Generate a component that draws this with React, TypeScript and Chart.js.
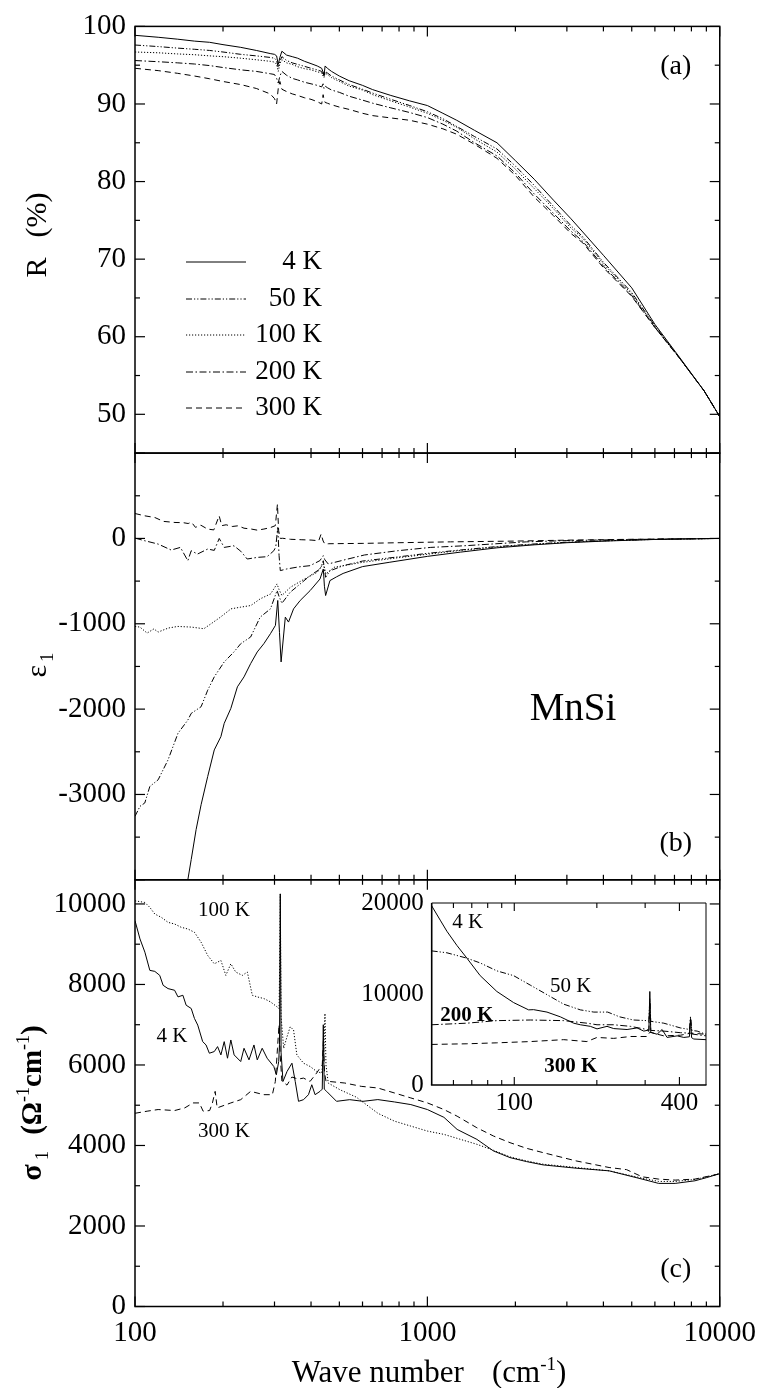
import React, { useEffect, useRef } from "react";
import { Chart, registerables } from "chart.js";

Chart.register(...registerables);

const SERIF = '"Liberation Serif", "Times New Roman", serif';

// ---------- shared wave-number axis ----------
const X_LABELS = [100, 1000, 10000];
const X_MAJOR = [100, 1000, 10000];
const X_MINOR = [200, 300, 400, 500, 600, 700, 800, 900, 2000, 3000, 4000, 5000, 6000, 7000, 8000, 9000];

const TEMPS = ["4 K", "50 K", "100 K", "200 K", "300 K"];
const DASHES: number[][] = [[], [6, 2, 1.2, 2, 1.2, 2], [1.2, 1.8], [7, 2.5, 1.5, 2.5], [6, 4]];

// ---------- panel (a): reflectivity R (%) ----------
const R_LABELS = [50, 60, 70, 80, 90, 100];
const R_MINOR = [55, 65, 75, 85, 95];
const WN_R = [100, 120, 140, 160, 180, 200, 230, 260, 290, 300,
  305, 309, 313, 318, 330, 345, 360, 380, 400, 420,
  435, 440, 443, 447, 455, 470, 500, 540, 600, 650,
  750, 870, 1000, 1130, 1260, 1450, 1730, 2000, 2320, 2700,
  3100, 3400, 4000, 5000, 6000, 7300, 8850, 10000];
const R_4K = [98.85, 98.6, 98.35, 98.1, 97.95, 97.65, 97.3, 96.9, 96.5, 96.4,
  96.2, 95.1, 96.0, 96.8, 96.3, 96.1, 95.9, 95.5, 95.2, 94.9,
  94.6, 94.1, 93.7, 94.9, 94.6, 94.2, 93.6, 93.0, 92.4, 91.85,
  91.1, 90.4, 89.8, 88.8, 87.9, 86.6, 85.0, 82.7, 80.3, 77.6,
  75.2, 73.5, 70.5, 66.3, 61.6, 57.3, 53.0, 49.7];
const R_50K = [97.6, 97.4, 97.2, 97.05, 96.9, 96.7, 96.4, 96.2, 96.0, 95.9,
  95.6, 94.7, 95.5, 96.1, 95.6, 95.3, 95.1, 94.85, 94.6, 94.4,
  94.2, 93.8, 93.6, 94.2, 94.0, 93.6, 93.1, 92.5, 91.9, 91.4,
  90.6, 89.8, 89.0, 88.1, 87.1, 85.8, 84.2, 82.0, 79.5, 76.8,
  74.3, 72.9, 69.6, 65.7, 61.4, 57.2, 53.0, 49.7];
const R_100K = [96.7, 96.6, 96.45, 96.35, 96.2, 96.1, 95.9, 95.7, 95.5, 95.4,
  95.1, 94.2, 95.2, 95.7, 95.3, 95.1, 94.8, 94.55, 94.4, 94.15,
  94.0, 93.6, 93.4, 94.0, 93.8, 93.4, 92.9, 92.3, 91.8, 91.2,
  90.4, 89.6, 88.8, 87.9, 87.0, 85.5, 83.8, 81.6, 79.1, 76.5,
  74.0, 72.7, 69.4, 65.5, 61.3, 57.2, 53.0, 49.7];
const R_200K = [95.6, 95.45, 95.3, 95.15, 94.95, 94.7, 94.4, 94.2, 93.9, 93.8,
  93.3, 92.7, 93.6, 94.2, 93.7, 93.3, 93.1, 92.8, 92.6, 92.4,
  92.2, 92.6, 92.0, 92.3, 92.1, 91.8, 91.5, 91.0, 90.5, 90.1,
  89.5, 88.9, 88.25, 87.4, 86.5, 85.0, 83.3, 81.1, 78.4, 75.9,
  73.6, 72.3, 69.1, 65.3, 61.2, 57.2, 53.0, 49.7];
const R_300K = [94.6, 94.3, 93.95, 93.6, 93.25, 92.9, 92.5, 92.0, 91.3, 90.7,
  90.0, 92.0, 92.9, 91.9, 91.6, 91.3, 91.1, 90.8, 90.6, 90.3,
  90.0, 91.2, 90.6, 90.2, 90.1, 89.9, 89.6, 89.3, 88.8, 88.5,
  88.2, 87.9, 87.4, 86.8, 86.1, 84.8, 83.0, 80.8, 78.0, 75.6,
  73.3, 72.1, 68.9, 65.2, 61.2, 57.2, 53.0, 49.7];

// ---------- panel (b): epsilon_1 ----------
const E_LABELS = [0, -1000, -2000, -3000];
const E_MAJOR = [1000, 0, -1000, -2000, -3000, -4000];
const E_MINOR = [500, -500, -1500, -2500, -3500];
const E_4K_X = [146, 151.6, 155.7, 161.8, 168.3, 177.3, 186.7, 196.7, 201.9, 212.7,
  224, 236, 248.6, 261.9, 275.9, 290.6, 302.2, 307.8, 312, 316,
  326.7, 335, 348.6, 367.3, 397.2, 429.3, 440.6, 444.5, 448.7, 464.2,
  489, 515, 600, 740, 1000, 1300, 1730, 2320, 3000, 4100,
  6000, 10000];
const E_4K = [-4400, -4000, -3762, -3412, -3120, -2789, -2478, -2322, -2167, -1992,
  -1739, -1622, -1467, -1330, -1233, -1116, -1019, -727, -1100, -1447,
  -922, -980, -825, -727, -611, -475, -358, -560, -669, -494,
  -450, -410, -330, -280, -210, -160, -110, -75, -50, -30,
  -12, 0];
const E_50K_X = [100, 104, 108, 112.4, 120, 129.7, 140.3, 151.6, 155.7, 168.3,
  177.3, 186.7, 201.9, 218, 230, 248.6, 268, 290.6, 306.1, 311,
  318, 339.6, 367.3, 397.2, 429.3, 440.6, 448.7, 464.2, 515, 600,
  800, 1000, 1300, 1730, 2320, 3000, 4100, 6000, 10000];
const E_50K = [-3256, -3139, -3100, -2906, -2828, -2595, -2283, -2128, -2050, -1972,
  -1778, -1622, -1447, -1330, -1233, -1155, -922, -825, -611, -680,
  -760, -630, -533, -436, -358, -261, -455, -380, -320, -265,
  -215, -175, -135, -95, -65, -44, -27, -11, 0];
const E_100K_X = [100, 104, 110, 116, 120, 130, 140, 156, 172, 182,
  196, 213, 230, 249, 268, 291, 306, 311, 318, 340,
  380, 420, 440, 445, 449, 480, 600, 800, 1000, 1300,
  1730, 2320, 3000, 4100, 6000, 10000];
const E_100K = [-1031, -1039, -1109, -1060, -1097, -1050, -1031, -1039, -1058, -1000,
  -922, -825, -805, -786, -708, -650, -533, -600, -669, -572,
  -475, -397, -300, -350, -416, -338, -280, -225, -185, -140,
  -100, -68, -46, -28, -11, 0];
const E_200K_X = [100, 108, 120, 133, 143, 151.6, 155.7, 163.6, 177.3, 186.7,
  194.1, 201.9, 218, 230, 242, 262, 283, 298.4, 303, 307.8,
  311, 314, 330, 362, 397, 429, 440.6, 446, 458, 535,
  609, 791, 1027, 1334, 2183, 3000, 5000, 10000];
const E_200K = [4, -27, -66, -136, -105, -261, -144, -183, -124, -140,
  0, -105, -86, -150, -241, -222, -214, -144, -100, 128,
  -200, -377, -358, -334, -319, -260, -202, -250, -299, -241,
  -194, -144, -105, -86, -40, -25, -12, 0];
const E_300K_X = [100, 108, 117, 125, 137, 146, 152, 156, 161, 168,
  177, 186, 194, 198, 205, 215, 225, 236, 250, 262,
  276, 291, 302, 307, 310, 314, 320, 340, 370, 400,
  425, 433, 440, 446, 460, 520, 602, 800, 1200, 2000,
  3000, 5000, 10000];
const E_300K = [292, 265, 245, 200, 187, 185, 175, 190, 130, 155,
  110, 100, 265, 150, 160, 140, 148, 120, 110, 97,
  110, 128, 150, 401, 90, 0, 2, -10, -15, -19,
  -27, 51, -30, -66, -62, -60, -58, -50, -40, -31,
  -20, -10, 0];

// ---------- panel (c): sigma_1 ----------
const S_LABELS = [0, 2000, 4000, 6000, 8000, 10000];
const S_MINOR = [1000, 3000, 5000, 7000, 9000];
const S_4K_X = [100, 104, 108.1, 112.4, 116.9, 121.5, 124.8, 129.7, 136.6, 140.3,
  145.8, 149.6, 155.7, 159.7, 163.9, 170.4, 175, 179.6, 186.7, 191.6,
  196.7, 201.9, 207.2, 212.7, 218.3, 229.9, 236, 245.4, 255.2, 261.9,
  272.3, 283.1, 298.4, 304.4, 310.1, 312, 314, 316, 320.8, 331.1,
  344.2, 353.2, 362.5, 377.1, 392, 402.4, 413, 429.3, 437, 440.6,
  444, 452.3, 489, 542.6, 602.2, 677, 771, 878, 1000, 1139,
  1264, 1477, 1683, 1917, 2183, 2486, 3225, 4183, 5426, 6180,
  7039, 8228, 9000, 10000];
const S_4K = [9584, 9131, 8802, 8350, 8325, 8226, 7979, 7897, 7856, 7691,
  7732, 7485, 7403, 7156, 6991, 6580, 6497, 6292, 6333, 6456,
  6250, 6580, 6168, 6621, 6250, 6085, 6415, 6127, 6497, 6127,
  6415, 6168, 5962, 5756, 6085, 6500, 10250, 6300, 5591, 5838,
  6044, 5591, 5097, 5138, 5262, 5509, 5262, 5344, 5400, 7000,
  5400, 5344, 5097, 5138, 5097, 5140, 5082, 5016, 4893, 4700,
  4399, 4152, 3864, 3699, 3600, 3518, 3436, 3370, 3165, 3058,
  3058, 3123, 3200, 3300];
const S_100K_X = [100, 108.1, 112.4, 116.9, 123.1, 129.7, 136.6, 143.9, 151.6, 159.7,
  168.3, 177.3, 186.7, 196.7, 204.5, 212.7, 221.1, 232.9, 242.2, 251.9,
  261.9, 275.9, 290.6, 306.1, 311, 312.5, 314, 316, 322.5, 331,
  339.6, 348.6, 357.8, 377.1, 397.2, 418.3, 434.9, 442, 446.4, 450,
  458.2, 502, 571.6, 677, 771, 878, 1000, 1139, 1264, 1477,
  1683, 1917, 2183, 2486, 3225, 4183, 5426, 6180, 7039, 8228,
  9000, 10000];
const S_100K = [10078, 10037, 9914, 9749, 9667, 9543, 9502, 9420, 9378, 9296,
  9049, 8720, 8514, 8596, 8226, 8514, 8308, 8226, 8308, 7732,
  7691, 7650, 7568, 7444, 7400, 8500, 10250, 7200, 6414, 6700,
  6950, 6868, 6250, 6044, 5962, 5838, 5797, 6200, 7280, 6000,
  5550, 5386, 5200, 4800, 4605, 4481, 4358, 4276, 4177, 4029,
  3881, 3716, 3617, 3535, 3453, 3370, 3189, 3107, 3107, 3156,
  3220, 3300];
const S_300K_X = [100, 110, 120, 136.6, 148, 158, 166, 171, 180, 184,
  188, 191, 212.7, 229.9, 248.6, 275.9, 295, 302, 307, 311,
  314, 318, 331, 344, 362, 377, 397, 418, 429, 437,
  441, 445, 450, 458, 522, 594, 677, 771, 878, 1000,
  1139, 1264, 1477, 1683, 1917, 2183, 2486, 3225, 4183, 4800,
  5426, 6180, 7039, 8228, 9872, 10000];
const S_300K = [4800, 4852, 4893, 4868, 4934, 5057, 5057, 4852, 4868, 5057,
  5344, 4934, 5057, 5138, 5344, 5262, 5262, 5591, 6400, 7000,
  6200, 5600, 5500, 5700, 5650, 5674, 5591, 5800, 5920, 6000,
  6600, 5800, 5600, 5593, 5551, 5469, 5428, 5305, 5181, 5058,
  4893, 4728, 4440, 4235, 4070, 3930, 3823, 3617, 3453, 3400,
  3222, 3165, 3140, 3165, 3288, 3300];

// ---------- inset: far-infrared sigma_1 ----------
const INSET_X_LABELS = [100, 400];
const INSET_X_MINOR = [60, 70, 80, 90, 200, 300];
const INSET_Y_LABELS = [0, 10000, 20000];
const IN_4K_X = [50, 53.7, 56.8, 61.8, 67.2, 75.1, 86.4, 99.4, 112.8, 117.6,
  131.6, 147.2, 164.6, 174.1, 189.4, 200.3, 217.8, 230.4, 257.8, 280.3,
  296.5, 305, 309.5, 312, 314.5, 318.1, 331.6, 345.9, 360.7, 392.4,
  415, 435, 439, 443, 451.3, 500];
const IN_4K = [19685, 18117, 16897, 15330, 13936, 12020, 10278, 9058, 8257, 8280,
  8013, 7491, 6794, 6620, 6445, 6167, 6445, 6201, 6097, 6271,
  5923, 6000, 5900, 10278, 5800, 5748, 5574, 6097, 5226, 5400,
  5226, 5300, 7316, 5200, 5052, 4982];
const IN_50K_X = [50, 56.8, 67.2, 75.1, 86.4, 99.4, 114.4, 131.6, 151.4, 174.1,
  195, 219, 242, 272, 305, 309.5, 312, 314.5, 322.5, 350.8,
  403.5, 435, 439, 443, 464.2, 500];
const IN_50K = [14737, 14528, 13936, 13413, 12542, 12020, 10975, 9929, 8884, 8257,
  8013, 8013, 7491, 7142, 7073, 7000, 9500, 7000, 6950, 6794,
  6271, 6100, 7491, 6000, 5923, 5574];
const IN_200K_X = [50, 67.2, 86.4, 114.4, 151.4, 184, 200.3, 230.4, 265.1, 305,
  309.5, 312, 314.5, 350.8, 403.5, 435, 440, 445, 500];
const IN_200K = [6620, 6794, 7073, 7142, 7073, 6794, 6620, 6620, 6445, 6097,
  6000, 9000, 6000, 5923, 5748, 5700, 7142, 5600, 5400];
const IN_300K_X = [50, 67.2, 86.4, 114.4, 151.4, 184, 200.3, 230.4, 265.1, 305,
  312, 350.8, 403.5, 440, 500];
const IN_300K = [4459, 4529, 4634, 4773, 4982, 4773, 5226, 5122, 5330, 5330,
  5800, 5400, 5470, 5700, 5574];

// ---------- helpers ----------
type Run = { text?: string; size?: number; bold?: boolean; dy?: number; gap?: number };

const font = (size: number, bold = false) => `${bold ? "bold " : ""}${size}px ${SERIF}`;

function runsWidth(ctx: CanvasRenderingContext2D, runs: Run[]) {
  let w = 0;
  for (const r of runs) {
    if (r.gap) w += r.gap;
    if (r.text) {
      ctx.font = font(r.size ?? 28, r.bold);
      w += ctx.measureText(r.text).width;
    }
  }
  return w;
}

// Draws a row of text runs centred on (cx, cy), optionally turned to read upwards.
function drawRuns(ctx: CanvasRenderingContext2D, runs: Run[], cx: number, cy: number, upright: boolean, baseOffset: number) {
  ctx.save();
  ctx.translate(cx, cy);
  if (upright) ctx.rotate(-Math.PI / 2);
  ctx.textAlign = "left";
  ctx.textBaseline = "alphabetic";
  let x = -runsWidth(ctx, runs) / 2;
  for (const r of runs) {
    if (r.gap) x += r.gap;
    if (r.text) {
      ctx.font = font(r.size ?? 28, r.bold);
      ctx.fillText(r.text, x, baseOffset + (r.dy ?? 0));
      x += ctx.measureText(r.text).width;
    }
  }
  ctx.restore();
}

function seg(ctx: CanvasRenderingContext2D, x1: number, y1: number, x2: number, y2: number) {
  ctx.beginPath();
  ctx.moveTo(x1, y1);
  ctx.lineTo(x2, y2);
  ctx.stroke();
}

function lineSet(label: string, xs: number[], ys: number[], dash: number[], yAxisID: string) {
  return {
    label,
    data: xs.map((x, i) => ({ x, y: ys[i] })),
    borderColor: "#000",
    borderWidth: 1,
    borderDash: dash,
    pointRadius: 0,
    pointHoverRadius: 0,
    tension: 0,
    fill: false,
    yAxisID,
    xAxisID: "x",
  };
}

const fixedTicks = (values: number[]) => (scale: any) => {
  scale.ticks = values.map((value) => ({ value }));
};

const PANELS = [
  { id: "yR", major: R_LABELS, minor: R_MINOR },
  { id: "yE", major: E_MAJOR, minor: E_MINOR },
  { id: "yS", major: S_LABELS, minor: S_MINOR },
];

const tickFont = { family: SERIF, size: 29 };

// Frames, inward ticks and all annotation text of the three stacked panels.
const panelDecor = {
  id: "panelDecor",
  beforeDatasetDraw(chart: any, args: any) {
    const meta = chart.getDatasetMeta(args.index);
    const ys = chart.scales[meta.yAxisID];
    const ca = chart.chartArea;
    chart.ctx.save();
    chart.ctx.beginPath();
    chart.ctx.rect(ca.left, ys.top, ca.right - ca.left, ys.bottom - ys.top);
    chart.ctx.clip();
  },
  afterDatasetDraw(chart: any) {
    chart.ctx.restore();
  },
  afterDraw(chart: any) {
    const ctx: CanvasRenderingContext2D = chart.ctx;
    const ca = chart.chartArea;
    const xs = chart.scales.x;
    ctx.save();
    ctx.strokeStyle = "#000";
    ctx.fillStyle = "#000";
    for (const p of PANELS) {
      const ys = chart.scales[p.id];
      const top = ys.top;
      const bottom = ys.bottom;
      ctx.lineWidth = 1.2;
      for (const v of X_MAJOR) {
        const px = xs.getPixelForValue(v);
        seg(ctx, px, top, px, top + 10);
        seg(ctx, px, bottom, px, bottom - 10);
      }
      for (const v of X_MINOR) {
        const px = xs.getPixelForValue(v);
        seg(ctx, px, top, px, top + 5);
        seg(ctx, px, bottom, px, bottom - 5);
      }
      for (const v of p.major) {
        const py = ys.getPixelForValue(v);
        seg(ctx, ca.left, py, ca.left + 10, py);
        seg(ctx, ca.right, py, ca.right - 10, py);
      }
      for (const v of p.minor) {
        const py = ys.getPixelForValue(v);
        seg(ctx, ca.left, py, ca.left + 5, py);
        seg(ctx, ca.right, py, ca.right - 5, py);
      }
      ctx.lineWidth = 1.5;
      ctx.strokeRect(ca.left, top, ca.right - ca.left, bottom - top);
    }

    const yR = chart.scales.yR;
    const yE = chart.scales.yE;
    const yS = chart.scales.yS;

    // panel tags
    ctx.font = font(28);
    ctx.textAlign = "center";
    ctx.textBaseline = "middle";
    ctx.fillText("(a)", ca.right - 44, yR.top + 40);
    ctx.fillText("(b)", ca.right - 44, yE.bottom - 36);
    ctx.fillText("(c)", ca.right - 44, yS.bottom - 37);
    ctx.font = font(39);
    ctx.fillText("MnSi", 573, 710);

    // legend of panel (a)
    const rows = [262, 299, 335, 372, 408];
    ctx.lineWidth = 1;
    TEMPS.forEach((t, i) => {
      ctx.setLineDash(DASHES[i]);
      seg(ctx, 186, rows[i], 246, rows[i]);
      ctx.setLineDash([]);
      ctx.font = font(27);
      ctx.textAlign = "right";
      ctx.textBaseline = "middle";
      ctx.fillText(t, 322, rows[i]);
    });

    // curve tags in panel (c)
    ctx.font = font(21);
    ctx.textAlign = "center";
    ctx.fillText("100 K", 224, 910);
    ctx.fillText("4 K", 172, 1036);
    ctx.fillText("300 K", 224, 1131);

    // axis titles
    drawRuns(ctx, [{ text: "R", size: 30 }, { gap: 20 }, { text: "(%)", size: 30 }], 36, 235, true, 10);
    drawRuns(ctx, [{ text: "\u03b5", size: 30 }, { gap: 3 }, { text: "1", size: 19, dy: 7 }], 39, 665, true, 7);
    drawRuns(ctx, [
      { text: "\u03c3", size: 30, bold: true },
      { gap: 4 },
      { text: "1", size: 19, dy: 7 },
      { gap: 16 },
      { text: "(\u03a9", size: 29, bold: true },
      { text: "-1", size: 18, dy: -12 },
      { text: "cm", size: 29, bold: true },
      { text: "-1", size: 18, dy: -12 },
      { text: ")", size: 29, bold: true },
    ], 34, 1103, true, 7);
    drawRuns(ctx, [
      { text: "Wave number", size: 31 },
      { gap: 28 },
      { text: "(cm", size: 31 },
      { text: "-1", size: 19, dy: -12 },
      { text: ")", size: 31 },
    ], 429, 1372, false, 10);
    ctx.restore();
  },
};

// Frame, ticks and tags of the inset.
const insetDecor = {
  id: "insetDecor",
  afterDraw(chart: any) {
    const ctx: CanvasRenderingContext2D = chart.ctx;
    const ca = chart.chartArea;
    const xs = chart.scales.x;
    ctx.save();
    ctx.strokeStyle = "#000";
    ctx.fillStyle = "#000";
    ctx.lineWidth = 1.1;
    for (const v of INSET_X_LABELS) {
      const px = xs.getPixelForValue(v);
      seg(ctx, px, ca.bottom, px, ca.bottom - 8);
      seg(ctx, px, ca.top, px, ca.top + 8);
    }
    for (const v of INSET_X_MINOR) {
      const px = xs.getPixelForValue(v);
      seg(ctx, px, ca.bottom, px, ca.bottom - 5);
      seg(ctx, px, ca.top, px, ca.top + 5);
    }
    ctx.lineWidth = 1;
    seg(ctx, ca.left, ca.top, ca.right, ca.top);
    seg(ctx, ca.right, ca.top, ca.right, ca.bottom);
    ctx.lineWidth = 1.6;
    seg(ctx, ca.left, ca.top, ca.left, ca.bottom);
    seg(ctx, ca.left - 0.8, ca.bottom, ca.right + 0.5, ca.bottom);

    ctx.textAlign = "center";
    ctx.textBaseline = "middle";
    ctx.font = font(21);
    ctx.fillText("4 K", ca.left + 36, ca.top + 19);
    ctx.fillText("50 K", ca.left + 139, ca.top + 83);
    ctx.font = font(21, true);
    ctx.fillText("200 K", ca.left + 35, ca.top + 113);
    ctx.fillText("300 K", ca.left + 139, ca.top + 164);
    ctx.restore();
  },
};

function mainConfig(): any {
  const xAxis = {
    type: "logarithmic",
    position: "bottom",
    min: 100,
    max: 10000,
    grid: { display: false, drawTicks: false },
    border: { display: false },
    afterBuildTicks: fixedTicks(X_LABELS),
    ticks: {
      autoSkip: false,
      maxRotation: 0,
      minRotation: 0,
      padding: 9,
      color: "#000",
      font: tickFont,
      callback: (v: number) => String(Math.round(v)),
    },
    afterFit: (s: any) => {
      s.height = 81.5;
    },
  };
  const yAxis = (min: number, max: number, labels: number[], weight: number) => ({
    type: "linear",
    position: "left",
    stack: "panels",
    stackWeight: 1,
    weight,
    min,
    max,
    grid: { display: false, drawTicks: false },
    border: { display: false },
    afterBuildTicks: fixedTicks(labels),
    ticks: {
      autoSkip: false,
      padding: 9,
      color: "#000",
      font: tickFont,
      callback: (v: number) => String(Math.round(v)),
    },
    afterFit: (s: any) => {
      s.width = 135;
    },
  });
  return {
    type: "line",
    data: {
      datasets: [
        lineSet("R 4 K", WN_R, R_4K, DASHES[0], "yR"),
        lineSet("R 50 K", WN_R, R_50K, DASHES[1], "yR"),
        lineSet("R 100 K", WN_R, R_100K, DASHES[2], "yR"),
        lineSet("R 200 K", WN_R, R_200K, DASHES[3], "yR"),
        lineSet("R 300 K", WN_R, R_300K, DASHES[4], "yR"),
        lineSet("e1 4 K", E_4K_X, E_4K, DASHES[0], "yE"),
        lineSet("e1 50 K", E_50K_X, E_50K, DASHES[1], "yE"),
        lineSet("e1 100 K", E_100K_X, E_100K, DASHES[2], "yE"),
        lineSet("e1 200 K", E_200K_X, E_200K, DASHES[3], "yE"),
        lineSet("e1 300 K", E_300K_X, E_300K, DASHES[4], "yE"),
        lineSet("s1 4 K", S_4K_X, S_4K, DASHES[0], "yS"),
        lineSet("s1 100 K", S_100K_X, S_100K, DASHES[2], "yS"),
        lineSet("s1 300 K", S_300K_X, S_300K, DASHES[4], "yS"),
      ],
    },
    options: {
      responsive: false,
      animation: false,
      devicePixelRatio: 1,
      events: [],
      layout: { padding: { left: 0, top: 20, right: 40, bottom: 0 } },
      plugins: { legend: { display: false }, tooltip: { enabled: false }, title: { display: false } },
      scales: {
        x: xAxis,
        yR: yAxis(45, 100, R_LABELS, 3),
        yE: yAxis(-4000, 1000, E_LABELS, 2),
        yS: yAxis(0, 10600, S_LABELS, 1),
      },
    },
    plugins: [panelDecor],
  };
}

function insetConfig(): any {
  return {
    type: "line",
    data: {
      datasets: [
        lineSet("4 K", IN_4K_X, IN_4K, DASHES[0], "y"),
        lineSet("50 K", IN_50K_X, IN_50K, DASHES[1], "y"),
        lineSet("200 K", IN_200K_X, IN_200K, DASHES[3], "y"),
        lineSet("300 K", IN_300K_X, IN_300K, DASHES[4], "y"),
      ],
    },
    options: {
      responsive: false,
      animation: false,
      devicePixelRatio: 1,
      events: [],
      layout: { padding: { left: 0, top: 14, right: 14, bottom: 0 } },
      plugins: { legend: { display: false }, tooltip: { enabled: false } },
      scales: {
        x: {
          type: "logarithmic",
          min: 50,
          max: 500,
          grid: { display: false, drawTicks: false },
          border: { display: false },
          afterBuildTicks: fixedTicks(INSET_X_LABELS),
          ticks: {
            autoSkip: false,
            maxRotation: 0,
            minRotation: 0,
            padding: 3,
            color: "#000",
            font: { family: SERIF, size: 25 },
            callback: (v: number) => String(Math.round(v)),
          },
          afterFit: (s: any) => {
            s.height = 40;
          },
        },
        y: {
          type: "linear",
          min: 0,
          max: 20000,
          grid: { display: false, drawTicks: false },
          border: { display: false },
          afterBuildTicks: fixedTicks(INSET_Y_LABELS),
          ticks: {
            padding: 8,
            color: "#000",
            font: { family: SERIF, size: 25 },
            callback: (v: number) => String(Math.round(v)),
          },
          afterFit: (s: any) => {
            s.width = 91.7;
          },
        },
      },
    },
    plugins: [insetDecor],
  };
}

export default function App() {
  const mainRef = useRef<HTMLCanvasElement>(null);
  const insetRef = useRef<HTMLCanvasElement>(null);

  useEffect(() => {
    const main = new Chart(mainRef.current as HTMLCanvasElement, mainConfig());
    const inset = new Chart(insetRef.current as HTMLCanvasElement, insetConfig());
    return () => {
      main.destroy();
      inset.destroy();
    };
  }, []);

  return (
    <div style={{ position: "absolute", left: 0, top: 0, width: 765, height: 1388, background: "#fff" }}>
      <canvas
        ref={mainRef}
        width={765}
        height={1388}
        style={{ position: "absolute", left: 0, top: 0, width: 765, height: 1388 }}
      />
      <canvas
        ref={insetRef}
        width={380}
        height={245}
        style={{ position: "absolute", left: 340, top: 880, width: 380, height: 245 }}
      />
    </div>
  );
}
